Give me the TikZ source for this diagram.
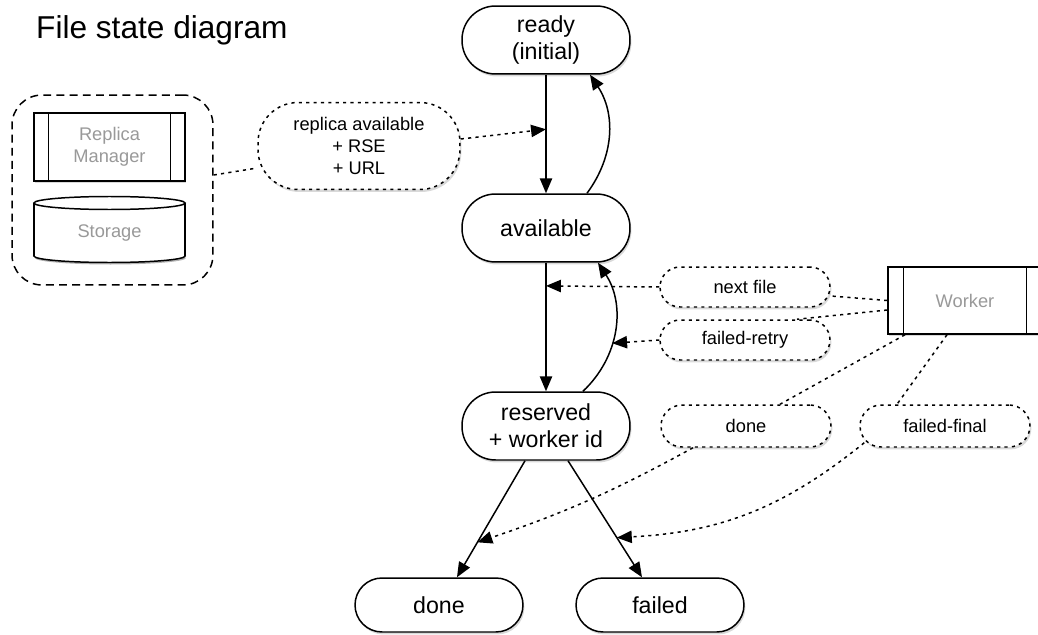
\documentclass[tikz,border=0pt]{standalone}
\usepackage{fontspec}
\setmainfont{Liberation Sans}
\usetikzlibrary{arrows.meta, shadows, calc}

\begin{document}
\begin{tikzpicture}[x=0.02cm, y=-0.02cm,
        filestate/.style={draw, line width=0.85pt, fill=white, rounded corners=0.67cm, minimum width=3.36cm, minimum height=1.36cm, align=center, font=\fontsize{13.2}{15.5}\selectfont, drop shadow={shadow xshift=0.8pt, shadow yshift=-1.4pt, opacity=0.3}},
        event/.style={draw, line width=0.85pt, dash pattern=on 1.8pt off 2.4pt, fill=white, rounded corners=0.4cm, minimum width=3.4cm, minimum height=0.8cm, align=center, font=\fontsize{10.4}{12.5}\selectfont, drop shadow={shadow xshift=0.8pt, shadow yshift=-1.4pt, opacity=0.3}},
        proc/.style={draw, line width=0.85pt, fill=white, text=black!40, align=center, font=\fontsize{10.4}{12.5}\selectfont, drop shadow={shadow xshift=0.8pt, shadow yshift=-1.4pt, opacity=0.3}},
        trans/.style={line width=0.85pt, -{Triangle[length=8.5pt, width=7pt]}},
        trigger/.style={line width=0.85pt, dash pattern=on 1.8pt off 2.4pt, -{Triangle[length=8.5pt, width=7pt]}},
        link/.style={line width=0.85pt, dash pattern=on 1.8pt off 2.4pt}]
        \useasboundingbox (0,0) rectangle (1038,635);

        % Title
        \node[anchor=base west, font=\fontsize{18}{22}\selectfont] (title) at (30,39) {File state diagram};

        % Replica side
        \node[draw, line width=0.85pt, dash pattern=on 4.5pt off 3pt, rounded corners=0.6cm, minimum width=4.02cm, minimum height=3.8cm] (replicas) at (112.5,190) {};
        \node[proc, minimum width=3.02cm, minimum height=1.36cm] (manager) at (109.5,147) {Replica\\Manager};
        \draw[line width=0.85pt] ([xshift=0.3cm]manager.north west) -- ([xshift=0.3cm]manager.south west);
        \draw[line width=0.85pt] ([xshift=-0.3cm]manager.north east) -- ([xshift=-0.3cm]manager.south east);
        \fill[black, opacity=0.3] (110.5,258) ellipse [x radius=75.5, y radius=6.5];
        \filldraw[fill=white, line width=0.85pt] (109.5,256) ellipse [x radius=75.5, y radius=6.5];
        \fill[white] (34,203) rectangle (185,256);
        \draw[line width=0.85pt] (34,203) -- (34,256) (185,203) -- (185,256);
        \filldraw[fill=white, line width=0.85pt] (109.5,203) ellipse [x radius=75.5, y radius=6.5];
        \node[text=black!40, font=\fontsize{10.4}{12.5}\selectfont] (storage) at (109.5,233) {Storage};

        % States
        \node[filestate] (ready) at (546,40) {ready\\(initial)};
        \node[filestate] (available) at (546,228) {available};
        \node[filestate] (reserved) at (546,426) {reserved\\+ worker id};
        \node[filestate, rounded corners=0.54cm, minimum height=1.08cm] (done) at (439,605) {done};
        \node[filestate, rounded corners=0.54cm, minimum height=1.08cm] (failed) at (660,605) {failed};

        % Events
        \node[event, rounded corners=0.8cm, minimum width=4.04cm, minimum height=1.74cm] (replicaev) at (359,146) {replica available\\+ RSE\\+ URL};
        \node[event] (nextev) at (745,287) {next file};
        \node[event] (retryev) at (745,340) {failed-retry};
        \node[event, rounded corners=0.42cm, minimum height=0.84cm] (doneev) at (746,426) {done};
        \node[event, rounded corners=0.42cm, minimum height=0.84cm] (finalev) at (945,426) {failed-final};

        % Worker
        \node[proc, minimum width=3.08cm, minimum height=1.34cm] (worker) at (965,300.5) {Worker};
        \draw[line width=0.85pt] ([xshift=0.32cm]worker.north west) -- ([xshift=0.32cm]worker.south west);
        \draw[line width=0.85pt] ([xshift=-0.32cm]worker.north east) -- ([xshift=-0.32cm]worker.south east);

        % Transitions
        \draw[trans] (ready) -- coordinate[pos=0.46] (onready) (available);
        \draw[trans] ([xshift=0.82cm]available.north) to[bend right=35] ([xshift=0.88cm]ready.south);
        \draw[trans] (available) -- coordinate[pos=0.18] (onnext) (reserved);
        \draw[trans] ([xshift=0.74cm]reserved.north) to[bend right=40] coordinate[pos=0.4] (onretry) ([xshift=1.04cm]available.south);
        \draw[trans] ([xshift=-0.42cm]reserved.south) -- coordinate[pos=0.7] (ondone) ([xshift=0.36cm]done.north);
        \draw[trans] ([xshift=0.44cm]reserved.south) -- coordinate[pos=0.66] (onfailed) ([xshift=-0.36cm]failed.north);

        % Triggers
        \draw[link] ([yshift=0.3cm]replicas.east) -- ([yshift=-0.44cm]replicaev.west);
        \draw[trigger] ([yshift=0.14cm]replicaev.east) -- (onready);
        \draw[link] (worker.west) -- ([yshift=-0.18cm]nextev.east);
        \draw[link] ([yshift=-0.19cm]worker.west) -- ([xshift=1.04cm]retryev.north);
        \draw[link] ([xshift=-1.2cm]worker.south) -- ([xshift=0.68cm]doneev.north);
        \draw[link] ([xshift=-0.36cm]worker.south) -- ([xshift=-0.96cm]finalev.north);
        \draw[trigger] (nextev.west) -- (onnext);
        \draw[trigger] (retryev.west) -- (onretry);
        \draw[trigger] ([xshift=-1.06cm]doneev.south) to[bend left=5] (ondone);
        \draw[trigger] ([xshift=0.1cm, yshift=0.1cm]finalev.south west) to[bend left=18] (onfailed);
\end{tikzpicture}
\end{document}
